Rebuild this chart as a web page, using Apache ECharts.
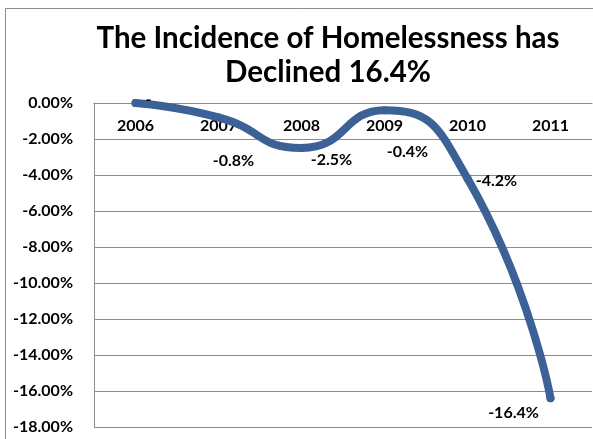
<!DOCTYPE html>
<html>
<head>
<meta charset="utf-8">
<style>
  html, body { margin: 0; padding: 0; background: #ffffff; }
  #chart { width: 593px; height: 439px; }
</style>
<script src="https://cdn.jsdelivr.net/npm/echarts@6/dist/echarts.min.js"></script>
</head>
<body>
<div id="chart"></div>
<script>
// Year-over-year change in the incidence of homelessness (percent)
const years = ['2006', '2007', '2008', '2009', '2010', '2011'];
const changePct = [0, -0.8, -2.5, -0.4, -4.2, -16.4];
const yTicks = [0, -2, -4, -6, -8, -10, -12, -14, -16, -18];

// Where each value label sits relative to its point (px)
const labelShift = [[13, -3], [15, 43], [30, 12], [23, 42], [29, 2], [-37, 15]];

const font = "Lato, 'Open Sans', 'Liberation Sans', sans-serif";
const chart = echarts.init(document.getElementById('chart'));

chart.setOption({
  animation: false,
  title: {
    text: 'The Incidence of Homelessness has\nDeclined 16.4%',
    left: 323,
    top: 16,
    textAlign: 'center',
    textStyle: { fontFamily: font, fontWeight: 'bold', fontSize: 29.5, lineHeight: 34, color: '#000' }
  },
  graphic: [{
    type: 'rect',
    shape: { x: 5.5, y: 8.5, width: 600, height: 450 },
    style: { fill: 'none', stroke: '#8c8c8c', lineWidth: 1 },
    silent: true
  }],
  grid: { left: 94, top: 103, right: 1, bottom: 12 },
  xAxis: {
    type: 'category',
    position: 'top',
    data: years,
    boundaryGap: true,
    axisLine: { lineStyle: { color: '#8c8c8c' } },
    axisTick: { show: false },
    axisLabel: { inside: true, margin: 15, fontFamily: font, fontWeight: 'bold', fontSize: 16, color: '#000' }
  },
  yAxis: {
    type: 'value',
    min: yTicks[yTicks.length - 1],
    max: yTicks[0],
    interval: 2,
    axisLine: { show: true, lineStyle: { color: '#8c8c8c' } },
    axisTick: { show: false },
    splitLine: { lineStyle: { color: '#8c8c8c', width: 1 } },
    axisLabel: {
      margin: 21,
      fontFamily: font, fontWeight: 'bold', fontSize: 16, color: '#000',
      formatter: v => v.toFixed(2) + '%'
    }
  },
  series: [{
    type: 'line',
    data: changePct.map((v, i) => ({
      value: v,
      label: { offset: labelShift[i] }
    })),
    smooth: 0.55,
    symbol: 'circle',
    symbolSize: 8,
    showSymbol: true,
    itemStyle: { color: '#3b6196' },
    lineStyle: { color: '#3b6196', width: 8, cap: 'round', join: 'round' },
    label: {
      show: true,
      position: 'inside',
      fontFamily: font, fontWeight: 'bold', fontSize: 16, color: '#000',
      formatter: p => p.value === 0 ? '-' : p.value.toFixed(1) + '%'
    }
  }]
});
</script>
</body>
</html>
